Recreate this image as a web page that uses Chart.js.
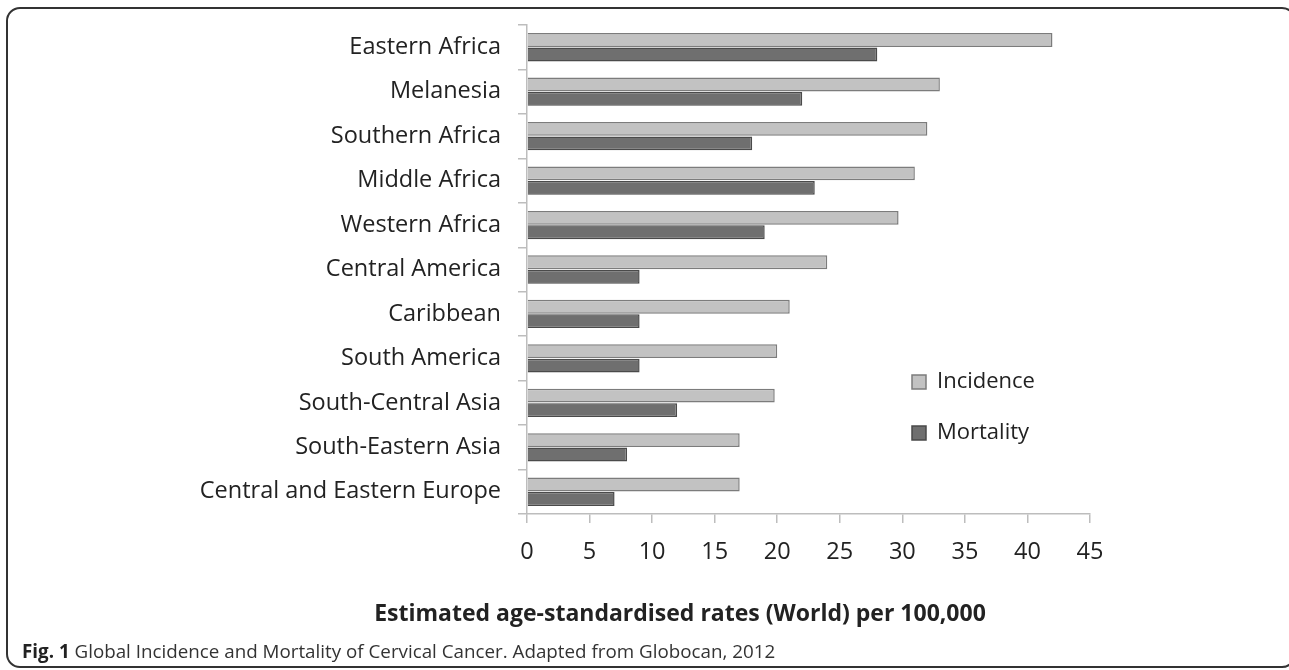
<!DOCTYPE html>
<html>
<head>
<meta charset="utf-8">
<script src="https://cdn.jsdelivr.net/npm/chart.js@4.4.1/dist/chart.umd.min.js"></script>
<style>
    html, body { margin: 0; padding: 0; background: #fff; }
    body { width: 1289px; height: 670px; position: relative; overflow: hidden; font-family: "Open Sans", sans-serif; color: #222; }
    #frame { position: absolute; left: 6px; top: 7px; width: 1286px; height: 657px; border: 2px solid #333; border-radius: 14px; }
    #wrap { position: absolute; left: 0; top: 0; width: 1289px; height: 670px; }
    #axis-title { position: absolute; left: 0; width: 1360px; top: 596px; text-align: center; font-weight: bold; font-size: 23px; color: #222; }
    #caption { position: absolute; left: 22px; top: 638px; font-size: 18.8px; color: #333; }
    #caption b { color: #222; }
</style>
</head>
<body>
<div id="frame"></div>
<div id="wrap"><canvas id="chart" width="1289" height="670"></canvas></div>
<div id="axis-title">Estimated age-standardised rates (World) per 100,000</div>
<div id="caption"><b>Fig. 1</b> Global Incidence and Mortality of Cervical Cancer. Adapted from Globocan, 2012</div>
<script>
// --- data ---
const regions = [
    'Eastern Africa', 'Melanesia', 'Southern Africa', 'Middle Africa', 'Western Africa',
    'Central America', 'Caribbean', 'South America', 'South-Central Asia',
    'South-Eastern Asia', 'Central and Eastern Europe'
];
const incidence = [42, 33, 32, 31, 29.7, 24, 21, 20, 19.8, 17, 17];
const mortality = [28, 22, 18, 23, 19, 9, 9, 9, 12, 8, 7];
const xMin = 0;
const xMax = 45;
const xStep = 5;

const axisGrey = '#bdbdbd';
const textColor = '#222';
const labelFont = { family: '"Open Sans", sans-serif', size: 23.5 };
const legendFont = { family: '"Open Sans", sans-serif', size: 22 };

// move the legend into the empty space at the lower right
const legendSpot = {
    id: 'legendSpot',
    afterLayout(chart) {
        const lg = chart.legend;
        if (!lg) return;
        lg.left = 883;
        lg.top = 342;
        lg.right = lg.left + lg.width;
        lg.bottom = lg.top + lg.height;
    }
};

const ctx = document.getElementById('chart');
new Chart(ctx, {
    type: 'bar',
    data: {
        labels: regions,
        datasets: [
            {
                label: 'Incidence',
                data: incidence,
                backgroundColor: '#c2c2c2',
                borderColor: '#7c7c7c',
                borderWidth: 1.5,
                categoryPercentage: 0.65,
                barPercentage: 0.96
            },
            {
                label: 'Mortality',
                data: mortality,
                backgroundColor: '#6f6f6f',
                borderColor: '#4a4a4a',
                borderWidth: 1.5,
                categoryPercentage: 0.65,
                barPercentage: 0.96
            }
        ]
    },
    options: {
        indexAxis: 'y',
        responsive: false,
        animation: false,
        layout: { padding: { top: 25, right: 199, left: 0, bottom: 0 } },
        scales: {
            x: {
                min: xMin,
                max: xMax,
                ticks: { stepSize: xStep, font: labelFont, color: textColor, padding: 15 },
                grid: { drawOnChartArea: false, tickLength: 9, color: axisGrey, lineWidth: 1.5 },
                border: { color: axisGrey, width: 1.5 },
                afterFit: s => { s.height = 156; }
            },
            y: {
                ticks: { font: labelFont, color: textColor, padding: 17 },
                grid: { drawOnChartArea: false, tickLength: 9, color: axisGrey, lineWidth: 1.5, offset: true },
                border: { color: axisGrey, width: 1.5 },
                afterFit: s => { s.width = 527; s.paddingTop = 0; s.paddingBottom = 0; }
            }
        },
        plugins: {
            legend: {
                position: 'chartArea',
                align: 'start',
                labels: { boxWidth: 14, boxHeight: 14, font: legendFont, color: textColor, padding: 29 }
            },
            tooltip: { enabled: false }
        }
    },
    plugins: [legendSpot]
});
</script>
</body>
</html>
